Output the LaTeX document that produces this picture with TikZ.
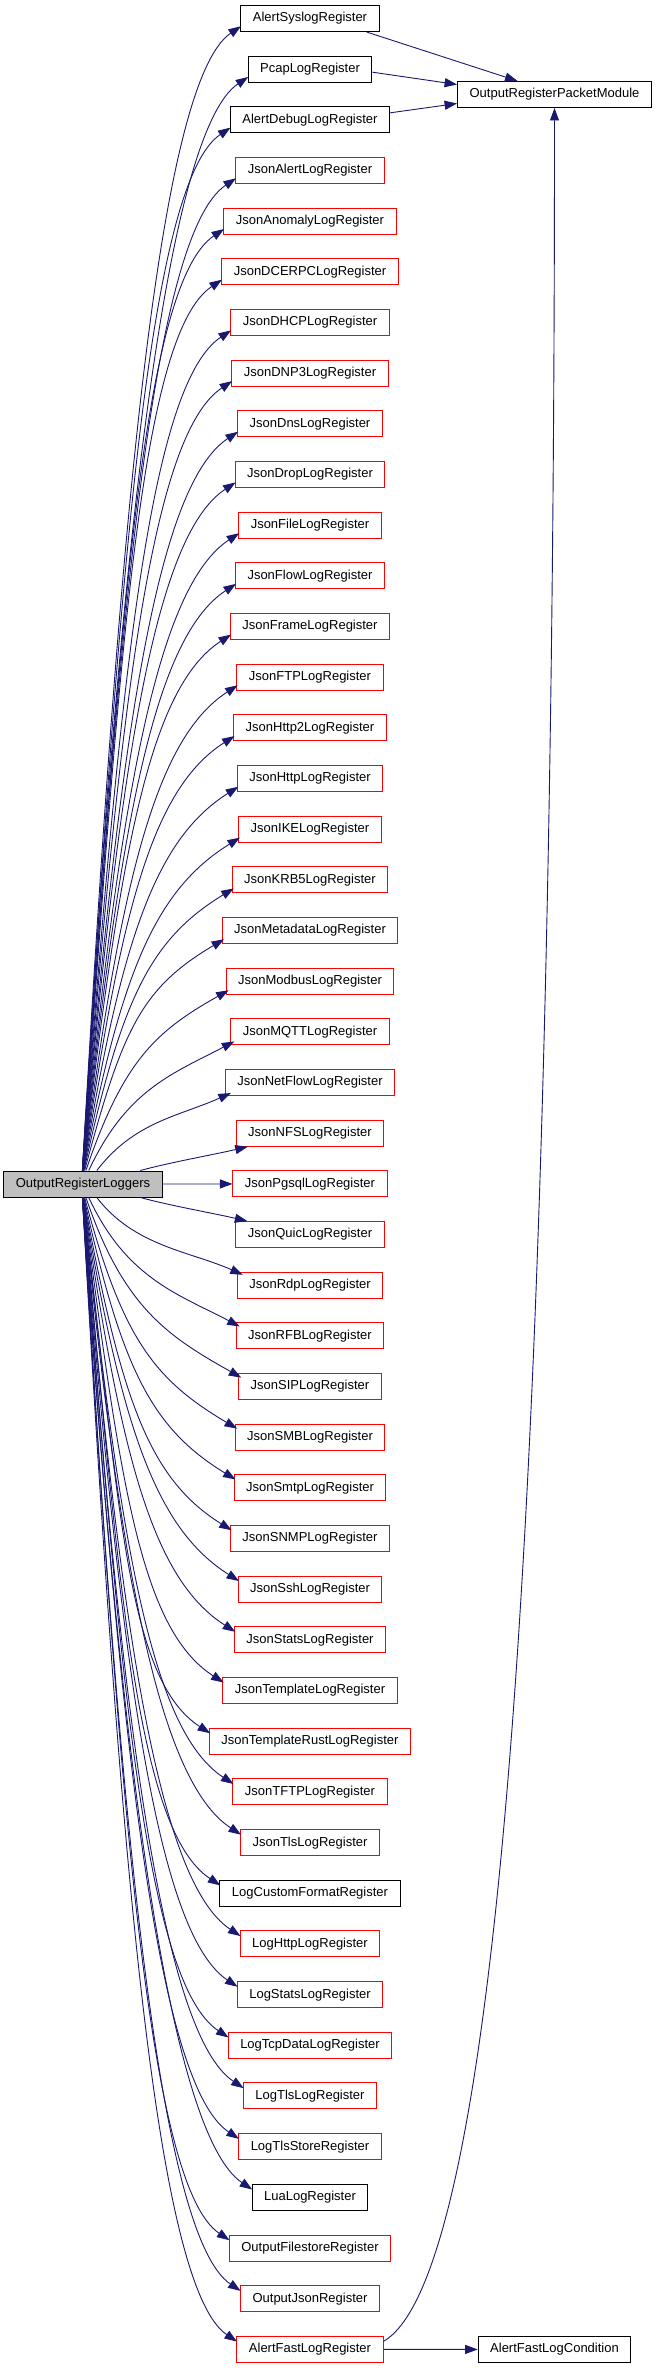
\documentclass[tikz,border=0pt]{standalone}
\usepackage{fontspec}
\setmainfont{Liberation Sans}
\usetikzlibrary{arrows.meta}
\definecolor{edgeblue}{HTML}{191970}

\begin{document}
\begin{tikzpicture}[x=1pt,y=1pt,>={Triangle[length=12.5pt,width=9pt]},every node/.style={font=\fontsize{13}{15}\selectfont},box/.style={draw,fill=white,line width=1pt,minimum height=26pt,inner xsep=12pt,inner ysep=0pt},edge/.style={->,color=edgeblue,line width=0.9pt}]
\useasboundingbox (0,0) rectangle (657,-2368);
\node[box,fill=black!25] (root) at (83,-1184) {OutputRegisterLoggers};
\node[box] (pkt) at (554.5,-94.5) {OutputRegisterPacketModule};
\node[box] (cond) at (554.5,-2349.5) {AlertFastLogCondition};
% the column of register functions
\foreach \name/\clr [count=\i] in {AlertSyslogRegister/black,PcapLogRegister/black,AlertDebugLogRegister/black,
  JsonAlertLogRegister/red,JsonAnomalyLogRegister/red,JsonDCERPCLogRegister/red,JsonDHCPLogRegister/red,
  JsonDNP3LogRegister/red,JsonDnsLogRegister/red,JsonDropLogRegister/red,JsonFileLogRegister/red,
  JsonFlowLogRegister/red,JsonFrameLogRegister/red,JsonFTPLogRegister/red,JsonHttp2LogRegister/red,
  JsonHttpLogRegister/red,JsonIKELogRegister/red,JsonKRB5LogRegister/red,JsonMetadataLogRegister/red,
  JsonModbusLogRegister/red,JsonMQTTLogRegister/red,JsonNetFlowLogRegister/red,JsonNFSLogRegister/red,
  JsonPgsqlLogRegister/red,JsonQuicLogRegister/red,JsonRdpLogRegister/red,JsonRFBLogRegister/red,
  JsonSIPLogRegister/red,JsonSMBLogRegister/red,JsonSmtpLogRegister/red,JsonSNMPLogRegister/red,
  JsonSshLogRegister/red,JsonStatsLogRegister/red,JsonTemplateLogRegister/red,JsonTemplateRustLogRegister/red,
  JsonTFTPLogRegister/red,JsonTlsLogRegister/red,LogCustomFormatRegister/black,LogHttpLogRegister/red,
  LogStatsLogRegister/red,LogTcpDataLogRegister/red,LogTlsLogRegister/red,LogTlsStoreRegister/red,
  LuaLogRegister/black,OutputFilestoreRegister/red,OutputJsonRegister/red,AlertFastLogRegister/red}
  \node[box,draw=\clr] (n\i) at (310,{-18.5-50.67*(\i-1)}) {\name};
% fan out from the caller
\foreach \i in {1,...,47}{
  \pgfmathtruncatemacro\d{abs(24-\i)}
  \ifnum\d=0
    \draw[edge] (root) -- (n\i);
  \else
    \pgfmathsetmacro\sx{79+58/(\d*\d)}
    \pgfmathsetmacro\aout{90-75/\d}
    \pgfmathsetmacro\ain{35-22/\d}
    \pgfmathsetmacro\ctlb{0.55*(50.67*\d-26)+20}
    \pgfmathsetmacro\ctla{min(100,0.35*veclen(161-58/(\d*\d),50.67*\d-26))}
    \pgfmathsetmacro\ex{12/\d}
    \pgfmathsetmacro\ey{6-6/\d}
    \ifnum\i<24
      \draw[edge] ([xshift=\sx pt]root.north west) .. controls +(\aout:\ctlb pt) and +(180+\ain:\ctla pt) .. ([xshift=\ex pt,yshift=\ey pt]n\i.south west);
    \else
      \draw[edge] ([xshift=\sx pt]root.south west) .. controls +(-\aout:\ctlb pt) and +(180-\ain:\ctla pt) .. ([xshift=\ex pt,yshift=-\ey pt]n\i.north west);
    \fi
  \fi
}
\draw[edge] ([xshift=-13pt]n1.south east) -- ([xshift=-37pt]pkt.north);
\draw[edge] ([yshift=-3pt]n2.east) -- ([yshift=10pt]pkt.west);
\draw[edge] ([yshift=7pt]n3.east) -- ([yshift=-9pt]pkt.west);
\draw[edge] ([yshift=8pt]n47.east) .. controls +(30:150pt) and +(-90:1200pt) .. (pkt.south);
\draw[edge] (n47.east) -- (cond);
\end{tikzpicture}
\end{document}
